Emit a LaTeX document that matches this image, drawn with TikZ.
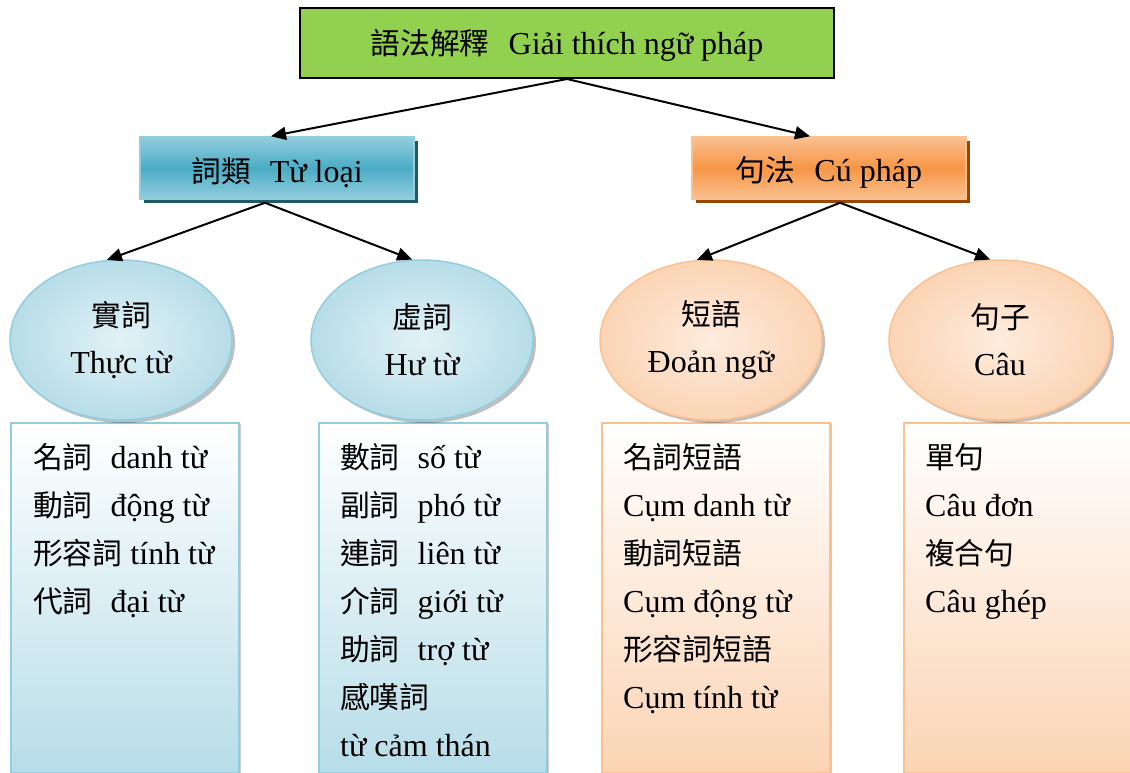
\documentclass[tikz,border=0pt]{standalone}
\usepackage{fontspec}
\setmainfont{Liberation Serif}
\newfontfamily\cjk[Scale=0.93]{Noto Sans CJK TC}
\usetikzlibrary{arrows.meta,shapes.geometric,shadows}
\definecolor{rootgreen}{RGB}{146,208,80}
\definecolor{tealmid}{RGB}{75,172,198}
\definecolor{teallight}{RGB}{146,205,220}
\definecolor{tealdark}{RGB}{33,89,104}
\definecolor{orgmid}{RGB}{247,150,70}
\definecolor{orglight}{RGB}{250,192,144}
\definecolor{orgdark}{RGB}{151,71,6}
\definecolor{blueout}{RGB}{183,221,232}
\definecolor{bluein}{RGB}{226,242,247}
\definecolor{blueline}{RGB}{146,205,220}
\definecolor{pchout}{RGB}{251,212,180}
\definecolor{pchin}{RGB}{254,236,222}
\definecolor{pchline}{RGB}{250,192,144}
\newcommand{\lowertext}[2]{\raisebox{-#1}[\height][\depth]{#2}}
\tikzset{
  txt/.style={font=\fontsize{32}{47}\selectfont},
  rootbox/.style={draw=black,line width=2pt,fill=rootgreen,minimum width=534pt,minimum height=70pt,inner sep=0pt,txt},
  catbox/.style={line width=1.5pt,minimum width=274pt,minimum height=62pt,inner sep=0pt,txt},
  tealbox/.style={catbox,draw=teallight,top color=teallight,bottom color=teallight,middle color=tealmid,
     drop shadow={shadow xshift=4pt,shadow yshift=-4pt,fill=tealdark,opacity=1}},
  orgbox/.style={catbox,draw=orglight,top color=orglight,bottom color=orglight,middle color=orgmid,
     drop shadow={shadow xshift=4pt,shadow yshift=-4pt,fill=orgdark,opacity=1}},
  ell/.style={ellipse,line width=1.5pt,minimum width=222pt,minimum height=160pt,inner sep=0pt,align=center,txt,
     drop shadow={shadow xshift=3pt,shadow yshift=-3pt,fill=black,opacity=.25}},
  blueell/.style={ell,draw=blueline,inner color=bluein,outer color=blueout},
  pchell/.style={ell,draw=pchline,inner color=pchin,outer color=pchout},
  listbox/.style={line width=2pt,minimum width=228pt,minimum height=350pt,inner sep=0pt,anchor=north west,
     drop shadow={shadow xshift=2pt,shadow yshift=-1pt,fill=black,opacity=.2}},
  bluelist/.style={listbox,draw=blueline,top color=white,bottom color=blueout},
  pchlist/.style={listbox,draw=pchline,top color=white,bottom color=pchout},
  item/.style={anchor=base west,inner sep=0pt,font=\fontsize{32}{38}\selectfont},
  arr/.style={line width=2pt,-{Triangle[length=15pt,width=13pt]}}
}
\begin{document}
\begin{tikzpicture}[x=1pt,y=-1pt]
\useasboundingbox (0,0) rectangle (1130,773);
% list boxes (drawn first, ellipses overlap)
\node[bluelist] (L1) at (10,422) {};
\node[bluelist] (L2) at (318,422) {};
\node[pchlist] (L3) at (601,422) {};
\node[pchlist] (L4) at (903,422) {};
% root
\node[rootbox] (root) at (567,43) {\lowertext{2.5pt}{{\cjk 語法解釋}\hspace{19pt}Giải thích ngữ pháp}};
% categories
\node[tealbox] (c1) at (277,168) {\lowertext{4.5pt}{{\cjk 詞類}\hspace{19pt}Từ loại}};
\node[orgbox] (c2) at (829,168) {\lowertext{4.5pt}{{\cjk 句法}\hspace{19pt}Cú pháp}};
% ellipses
\node[blueell] (e1) at (121,340) {{\cjk 實詞}\\Thực từ};
\node[blueell] (e2) at (422,340) {{\cjk 虛詞}\\Hư từ};
\node[pchell] (e3) at (711,340) {{\cjk 短語}\\Đoản ngữ};
\node[pchell] (e4) at (1000,340) {{\cjk 句子}\\Câu};
% arrows
\draw[arr] (root.south) -- ([xshift=-6pt]c1.north);
\draw[arr] (root.south) -- ([xshift=-19pt]c2.north);
\draw[arr] ([xshift=-12pt,yshift=-3pt]c1.south) -- (e1.100);
\draw[arr] ([xshift=-12pt,yshift=-3pt]c1.south) -- (e2.97);
\draw[arr] ([xshift=11pt,yshift=-3pt]c2.south) -- (e3.100);
\draw[arr] ([xshift=11pt,yshift=-3pt]c2.south) -- (e4.97);
% list items
\node[item] (a1) at (33,468) {{\cjk 名詞}\hspace{18pt}danh từ};
\node[item] (a2) at (33,516) {{\cjk 動詞}\hspace{18pt}động từ};
\node[item] (a3) at (33,564) {{\cjk 形容詞}\hspace{8pt}tính từ};
\node[item] (a4) at (33,612) {{\cjk 代詞}\hspace{18pt}đại từ};
\node[item] (b1) at (340,468) {{\cjk 數詞}\hspace{18pt}số từ};
\node[item] (b2) at (340,516) {{\cjk 副詞}\hspace{18pt}phó từ};
\node[item] (b3) at (340,564) {{\cjk 連詞}\hspace{18pt}liên từ};
\node[item] (b4) at (340,612) {{\cjk 介詞}\hspace{18pt}giới từ};
\node[item] (b5) at (340,660) {{\cjk 助詞}\hspace{18pt}trợ từ};
\node[item] (b6) at (340,708) {{\cjk 感嘆詞}};
\node[item] (b7) at (340,756) {từ cảm thán};
\node[item] (d1) at (623,468) {{\cjk 名詞短語}};
\node[item] (d2) at (623,516) {Cụm danh từ};
\node[item] (d3) at (623,564) {{\cjk 動詞短語}};
\node[item] (d4) at (623,612) {Cụm động từ};
\node[item] (d5) at (623,660) {{\cjk 形容詞短語}};
\node[item] (d6) at (623,708) {Cụm tính từ};
\node[item] (f1) at (925,468) {{\cjk 單句}};
\node[item] (f2) at (925,516) {Câu đơn};
\node[item] (f3) at (925,564) {{\cjk 複合句}};
\node[item] (f4) at (925,612) {Câu ghép};
\end{tikzpicture}
\end{document}
